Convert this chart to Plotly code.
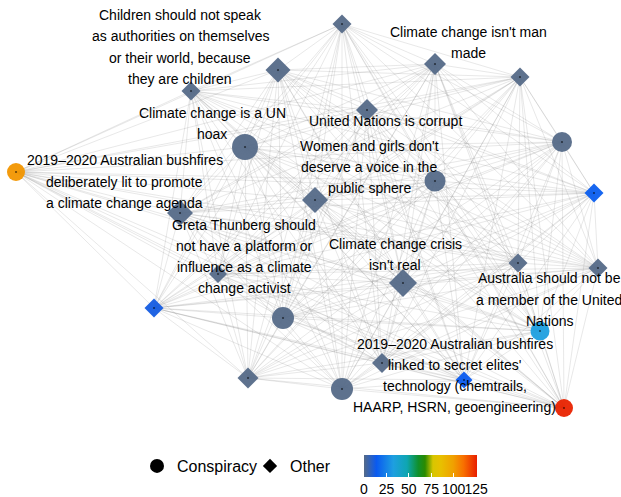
import plotly.graph_objects as go

# ---- node data ----
node_type = ["Conspiracy", "Other", "Other", "Other", "Other", "Other", "Other",
             "Conspiracy", "Conspiracy", "Conspiracy", "Other", "Other", "Other",
             "Other", "Other", "Conspiracy", "Other", "Other", "Other",
             "Conspiracy", "Other", "Other", "Conspiracy", "Other", "Conspiracy"]
node_value = [102, 0, 0, 0, 0, 0, 0,
              0, 0, 0, 15, 0, 0,
              0, 12, 0, 0, 0, 0,
              33, 0, 0, 0, 14, 125]
node_weight = [18, 19, 25, 19, 22, 19, 22,
               26, 20, 21, 19, 26, 26,
               18, 19, 22, 28, 19, 19,
               19, 21, 20, 22, 17, 18]
# layout coordinates from the graph layout
layout_x = [16, 342, 278, 191, 435, 520, 367,
            245, 562, 435, 594, 180, 315,
            218, 154, 283, 403, 518, 598,
            540, 248, 382, 342, 464, 564]
layout_y = [172, 24, 70, 91, 64, 77, 110,
            147, 142, 181, 193, 213, 200,
            274, 308, 318, 283, 263, 268,
            331, 378, 363, 389, 380, 408]

# ---- labels ----
label_text = [
    "Children should not speak<br>as authorities on themselves<br>or their world, because<br>they are children",
    "Climate change isn't man<br>made",
    "Climate change is a UN<br>hoax",
    "United Nations is corrupt",
    "Women and girls don't<br>deserve a voice in the<br>public sphere",
    "2019\u20132020 Australian bushfires<br>deliberately lit to promote<br>a climate change agenda",
    "Greta Thunberg should<br>not have a platform or<br>influence as a climate<br>change activist",
    "Climate change crisis<br>isn't real",
    "Australia should not be<br>a member of the United<br>Nations",
    "2019\u20132020 Australian bushfires<br>linked to secret elites'<br>technology (chemtrails,<br>HAARP, HSRN, geoengineering)",
]
label_x = [180, 468, 212, 385, 369, 124.5, 244, 395, 549, 454.5]
label_y = [47, 42.5, 123.5, 121, 167, 181.5, 256.5, 254.5, 299.5, 375.5]

colorbar_ticks = [0, 25, 50, 75, 100, 125]

colorscale = [
    [0.0, "#556a88"], [0.11, "#0a5af0"], [0.26, "#1e9fe0"], [0.38, "#0ea6b2"],
    [0.48, "#10902c"], [0.54, "#2a8a00"], [0.61, "#d8c600"], [0.68, "#e8c000"],
    [0.79, "#f0a000"], [0.88, "#f87000"], [1.0, "#e81e00"],
]

FONT = "Liberation Sans, Arial, Helvetica, sans-serif"

fig = go.Figure()

# edges (complete graph, each drawn separately so overlaps darken)
n = len(layout_x)
for i in range(n):
    for j in range(i + 1, n):
        fig.add_trace(go.Scatter(
            x=[layout_x[i], layout_x[j]], y=[layout_y[i], layout_y[j]],
            mode="lines", line=dict(color="rgba(110,110,110,0.16)", width=1),
            hoverinfo="skip", showlegend=False))

# nodes
for t, sym, scale in [("Conspiracy", "circle", 1.0), ("Other", "diamond", 1 / 1.3)]:
    idx = [k for k in range(n) if node_type[k] == t]
    fig.add_trace(go.Scatter(
        x=[layout_x[k] for k in idx], y=[layout_y[k] for k in idx],
        mode="markers",
        marker=dict(symbol=sym, size=[node_weight[k] * scale for k in idx],
                    color=[node_value[k] for k in idx], coloraxis="coloraxis",
                    opacity=0.95, line=dict(width=0)),
        showlegend=False, name=t))

# tiny centre dots
fig.add_trace(go.Scatter(x=layout_x, y=layout_y, mode="markers",
                         marker=dict(size=2, color="rgba(0,0,0,0.6)"),
                         hoverinfo="skip", showlegend=False))

# legend entries
fig.add_trace(go.Scatter(x=[None], y=[None], mode="markers", name="Conspiracy",
                         marker=dict(symbol="circle", size=14, color="black")))
fig.add_trace(go.Scatter(x=[None], y=[None], mode="markers", name="Other",
                         marker=dict(symbol="diamond", size=11, color="black")))

# labels, one annotation per line (line spacing ~21px)
for txt, lx, ly in zip(label_text, label_x, label_y):
    lines = txt.split("<br>")
    m = len(lines)
    for k, line in enumerate(lines):
        fig.add_annotation(x=lx, y=ly, text=line, showarrow=False,
                           xanchor="center", yanchor="middle",
                           yshift=-(k - (m - 1) / 2) * 21.3,
                           font=dict(family=FONT, size=14, color="black"))

fig.update_layout(
    width=621, height=497,
    margin=dict(l=0, r=0, t=0, b=0, autoexpand=False),
    paper_bgcolor="white", plot_bgcolor="white",
    xaxis=dict(range=[0, 621], visible=False),
    yaxis=dict(range=[497, 0], visible=False),
    font=dict(family=FONT, color="black"),
    legend=dict(orientation="h", x=137 / 621, y=1 - 466 / 497,
                xanchor="left", yanchor="middle",
                font=dict(size=16, family=FONT), itemsizing="trace",
                entrywidth=68, entrywidthmode="pixels",
                bgcolor="rgba(0,0,0,0)"),
    coloraxis=dict(
        colorscale=colorscale, cmin=0, cmax=126,
        colorbar=dict(orientation="h", lenmode="pixels", len=113,
                      thickness=22, x=420.5 / 621, xanchor="center",
                      y=1 - 455 / 497, yanchor="top", xpad=0, ypad=0,
                      outlinewidth=0, tickvals=colorbar_ticks, tickangle=0,
                      ticks="inside", tickcolor="white", ticklen=4,
                      tickfont=dict(size=14, family=FONT, color="black"),
                      title=dict(text="")),
    ),
)

fig.write_html("out.html", config={"displayModeBar": False},
               post_script="document.body.style.margin='0';")
